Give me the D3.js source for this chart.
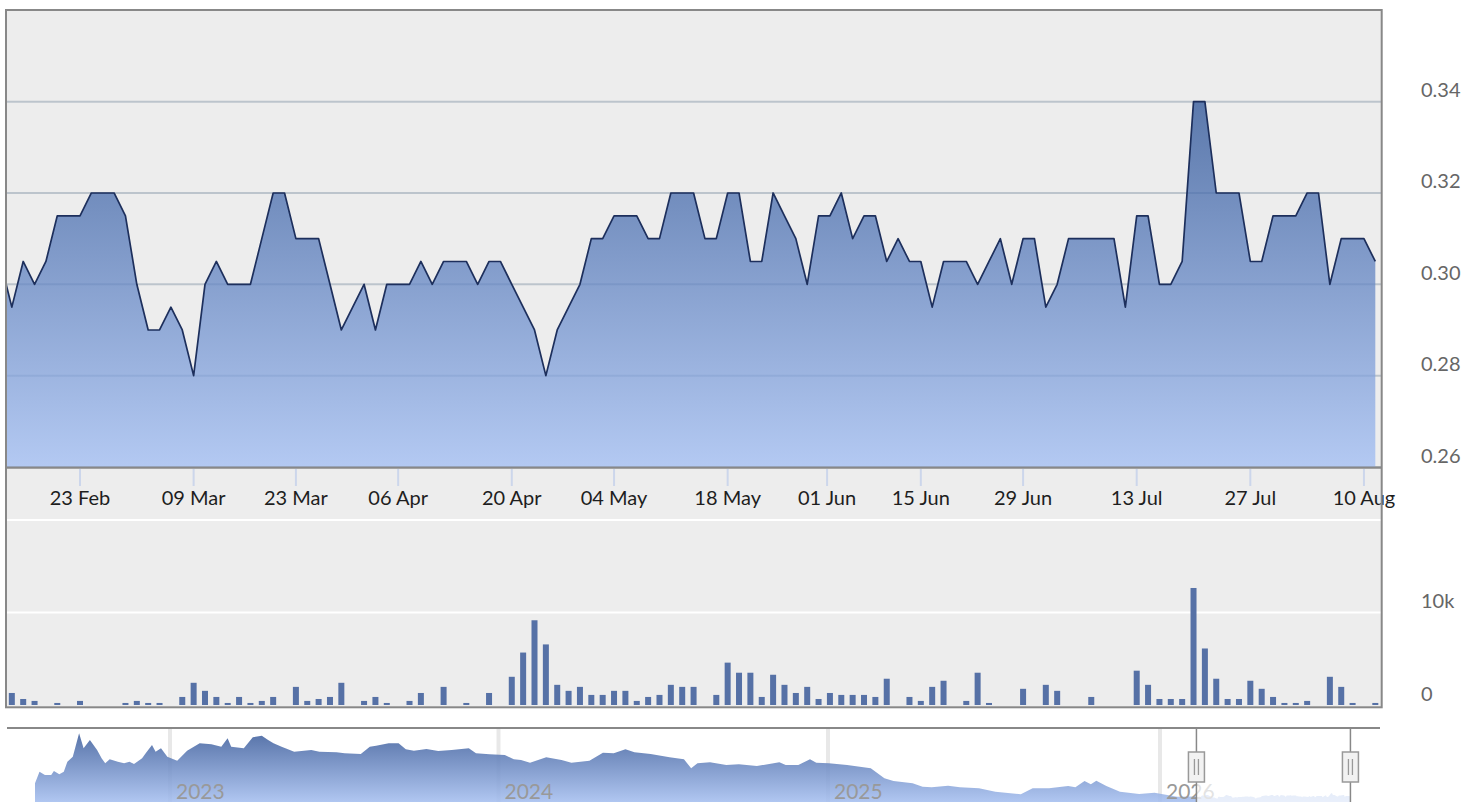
<!DOCTYPE html>
<html>
<head>
<meta charset="utf-8">
<script src="https://cdn.jsdelivr.net/npm/d3@7"></script>
<style>
html,body{margin:0;padding:0;background:#fff;overflow:hidden;}
svg{display:block;font-family:Lato,"Open Sans","Noto Sans",sans-serif;}
</style>
</head>
<body>
<svg id="chart" width="1474" height="802"></svg>
<script>
// ---------------- DATA ----------------
const startDate = "2026-02-12";
const endDate = "2026-08-11";
const closedDays = ["2026-03-17","2026-04-03","2026-04-27","2026-05-25","2026-06-01","2026-06-08","2026-06-22"];

const closePrices = [
  0.305,0.295,0.305,0.300,0.305,0.315,0.315,0.315,0.320,0.320,
  0.320,0.315,0.300,0.290,0.290,0.295,0.290,0.280,0.300,0.305,
  0.300,0.300,0.300,0.310,0.320,0.320,0.310,0.310,0.310,0.300,
  0.290,0.295,0.300,0.290,0.300,0.300,0.300,0.305,0.300,0.305,
  0.305,0.305,0.300,0.305,0.305,0.300,0.295,0.290,0.280,0.290,
  0.295,0.300,0.310,0.310,0.315,0.315,0.315,0.310,0.310,0.320,
  0.320,0.320,0.310,0.310,0.320,0.320,0.305,0.305,0.320,0.315,
  0.310,0.300,0.315,0.315,0.320,0.310,0.315,0.315,0.305,0.310,
  0.305,0.305,0.295,0.305,0.305,0.305,0.300,0.305,0.310,0.300,
  0.310,0.310,0.295,0.300,0.310,0.310,0.310,0.310,0.310,0.295,
  0.315,0.315,0.300,0.300,0.305,0.340,0.340,0.320,0.320,0.320,
  0.305,0.305,0.315,0.315,0.315,0.320,0.320,0.300,0.310,0.310,
  0.310,0.305
];

const volumes = [
  0,1300,650,440,0,220,0,440,0,0,
  0,220,440,220,220,0,870,2400,1530,870,
  220,870,220,440,870,0,1960,440,650,870,
  2400,0,440,870,220,0,440,1300,0,1960,
  0,220,0,1300,0,3050,5670,9160,6550,2180,
  1530,1960,1090,1090,1530,1530,440,870,1090,2180,
  1960,1960,0,1090,4580,3490,3490,870,3270,2180,
  1300,1960,650,1300,1090,1090,1090,870,2840,0,
  870,440,1960,2620,0,440,3490,220,0,0,
  1750,0,2180,1530,0,0,870,0,0,0,
  3710,2180,650,650,650,12650,6110,2840,650,650,
  2620,1750,870,220,220,440,0,3050,1960,220,
  0,220
];

const xTickDates = ["2026-02-23","2026-03-09","2026-03-23","2026-04-06","2026-04-20","2026-05-04",
  "2026-05-18","2026-06-01","2026-06-15","2026-06-29","2026-07-13","2026-07-27","2026-08-10"];
const priceTicks = [0.26,0.28,0.30,0.32,0.34];
const volumeGridTicks = [10000,20000];
const volumeLabelTicks = [0,10000];

const navHistoryDates = [
  "2022-08-04","2022-08-09","2022-08-15","2022-08-22","2022-08-25","2022-08-31","2022-09-05","2022-09-09",
  "2022-09-15","2022-09-22","2022-09-27","2022-10-04","2022-10-12","2022-10-17","2022-10-21","2022-10-26",
  "2022-11-04","2022-11-11","2022-11-17","2022-11-22","2022-12-01","2022-12-05","2022-12-12","2022-12-16",
  "2022-12-22","2022-12-29",
  "2023-01-09","2023-01-20","2023-02-03","2023-02-16","2023-02-27","2023-03-06","2023-03-10","2023-03-24",
  "2023-04-03","2023-04-13","2023-04-20","2023-04-26","2023-05-05","2023-05-19","2023-06-07","2023-06-16",
  "2023-07-05","2023-07-14","2023-08-01","2023-08-11","2023-08-18","2023-09-01","2023-09-12","2023-09-20",
  "2023-09-29","2023-10-13","2023-10-26","2023-11-10","2023-11-29","2023-12-07","2023-12-22",
  "2024-01-08","2024-01-18","2024-01-26","2024-02-05","2024-02-23","2024-03-11","2024-03-22","2024-04-11",
  "2024-04-26","2024-05-08","2024-05-21","2024-05-31","2024-06-18","2024-07-09","2024-07-25","2024-08-02",
  "2024-08-09","2024-08-23","2024-09-10","2024-09-24","2024-10-14","2024-11-08","2024-11-15","2024-11-29",
  "2024-12-12","2024-12-19",
  "2025-01-02","2025-01-22","2025-02-17","2025-03-04","2025-03-14","2025-04-04","2025-04-15","2025-04-25",
  "2025-05-13","2025-05-26","2025-06-16","2025-07-04","2025-08-01","2025-08-14","2025-09-01","2025-09-22",
  "2025-09-30","2025-10-10","2025-10-17","2025-10-23","2025-11-03","2025-11-18","2025-12-09","2025-12-26",
  "2026-01-21"
];
const navHistoryValues = [
  0.449,0.576,0.540,0.540,0.584,0.547,0.576,0.686,
  0.740,0.997,0.832,0.923,0.814,0.723,0.668,0.712,
  0.686,0.668,0.686,0.660,0.723,0.778,0.868,0.795,
  0.832,0.740,
  0.696,0.806,0.887,0.876,0.850,0.942,0.850,0.832,
  0.953,0.970,0.923,0.887,0.850,0.795,0.814,0.795,
  0.789,0.778,0.770,0.850,0.861,0.887,0.887,0.821,
  0.806,0.825,0.803,0.814,0.832,0.778,0.767,
  0.759,0.712,0.704,0.675,0.734,0.704,0.675,0.696,
  0.784,0.778,0.821,0.789,0.770,0.734,0.712,0.613,
  0.668,0.679,0.649,0.657,0.638,0.679,0.649,0.649,
  0.712,0.675,
  0.668,0.649,0.613,0.504,0.474,0.449,0.412,0.405,
  0.422,0.405,0.394,0.357,0.328,0.394,0.394,0.419,
  0.405,0.474,0.438,0.477,0.419,0.357,0.332,0.346,
  0.302
];
const navYearTicks = ["2023-01-01","2024-01-01","2025-01-01","2026-01-01"];

// ---------------- LAYOUT ----------------
const W = 1474, H = 802;
const plotL = 7, plotR = 1381;
const priceTop = 10.3, priceBot = 467;
const volTop = 520, volBot = 705;
const frameTop = 10, frameBot = 707.3;
const viewStartIdx = 0.575, viewEndIdx = 121.5;
const navTop = 728, navBottom = 806, navSeriesTop = 733;
const navAnchorPx = [35, 170, 498.5, 828, 1160, 1350];

const parse = d3.timeParse("%Y-%m-%d");
const keyFmt = d3.timeFormat("%Y-%m-%d");
const labelFmt = d3.timeFormat("%d %b");
const closedSet = new Set(closedDays);
const tradingDates = d3.timeDay.range(parse(startDate), d3.timeDay.offset(parse(endDate), 1))
  .filter(d => d.getDay() !== 0 && d.getDay() !== 6 && !closedSet.has(keyFmt(d)));
const n = Math.min(tradingDates.length, closePrices.length);
const series = d3.range(n).map(i => ({i, date: tradingDates[i], close: closePrices[i], vol: volumes[i]}));

function dateToIndex(d) {
  const t = +d;
  const i = d3.bisector(x => +x).right(tradingDates, t) - 1;
  if (i < 0) return 0;
  if (i >= tradingDates.length - 1) return tradingDates.length - 1;
  const a = +tradingDates[i], b = +tradingDates[i + 1];
  return i + (t - a) / (b - a);
}
function indexToDate(f) {
  const last = tradingDates.length - 1;
  if (f >= last) return new Date(+tradingDates[last] + (f - last) * 864e5);
  const i = Math.max(0, Math.floor(f)), fr = f - i;
  return new Date(+tradingDates[i] + fr * (+tradingDates[i + 1] - +tradingDates[i]));
}

const x = d3.scaleLinear().domain([viewStartIdx, viewEndIdx]).range([plotL, plotR]);
const y = d3.scaleLinear().domain([0.26, 0.36]).range([priceBot, priceTop]);
const yv = d3.scaleLinear().domain([0, 20000]).range([volBot, volTop]);

const svg = d3.select("#chart");
const defs = svg.append("defs");

const gradMain = defs.append("linearGradient").attr("id","gMain").attr("x1",0).attr("y1",0).attr("x2",0).attr("y2",1);
gradMain.append("stop").attr("offset","0%").attr("stop-color","#2b5296");
gradMain.append("stop").attr("offset","100%").attr("stop-color","#a0bdf4");

const gradNav = defs.append("linearGradient").attr("id","gNav").attr("x1",0).attr("y1",0).attr("x2",0).attr("y2",1);
gradNav.append("stop").attr("offset","0%").attr("stop-color","#40609d");
gradNav.append("stop").attr("offset","100%").attr("stop-color","#abc4f4");

defs.append("clipPath").attr("id","clipPrice").append("rect")
  .attr("x",plotL).attr("y",priceTop - 2).attr("width",plotR - plotL).attr("height",priceBot - priceTop + 2);
defs.append("clipPath").attr("id","clipVol").append("rect")
  .attr("x",plotL).attr("y",volTop).attr("width",plotR - plotL).attr("height",volBot - volTop);

// background
svg.append("rect").attr("x",plotL).attr("y",frameTop).attr("width",plotR - plotL).attr("height",frameBot - frameTop)
  .attr("fill","#ededed");

// price gridlines
svg.append("g").selectAll("line").data(priceTicks).join("line")
  .attr("x1",plotL).attr("x2",plotR).attr("y1",d => y(d)).attr("y2",d => y(d))
  .attr("stroke","#bcc4cc").attr("stroke-width",2);

// price area + line
const gPrice = svg.append("g").attr("clip-path","url(#clipPrice)");
gPrice.append("path").datum(series)
  .attr("d", d3.area().x(d => x(d.i)).y0(priceBot).y1(d => y(d.close)))
  .attr("fill","url(#gMain)").attr("fill-opacity",0.75);
gPrice.append("path").datum(series)
  .attr("d", d3.line().x(d => x(d.i)).y(d => y(d.close)))
  .attr("fill","none").attr("stroke","#1d2f5c").attr("stroke-width",1.7).attr("stroke-linejoin","round");

// x axis line, ticks, labels
svg.append("line").attr("x1",plotL).attr("x2",plotR).attr("y1",priceBot + 0.7).attr("y2",priceBot + 0.7)
  .attr("stroke","#888").attr("stroke-width",2.2);
const xt = xTickDates.map(s => ({date: parse(s), pos: x(dateToIndex(parse(s)))}));
svg.append("g").selectAll("line").data(xt).join("line")
  .attr("x1",d => d.pos).attr("x2",d => d.pos).attr("y1",priceBot + 2).attr("y2",priceBot + 19)
  .attr("stroke","#ccd6eb").attr("stroke-width",2);
svg.append("g").selectAll("text").data(xt).join("text")
  .attr("x",d => d.pos).attr("y",505).attr("text-anchor","middle")
  .attr("font-size",20).attr("fill","#1e1e1e").text(d => labelFmt(d.date));

// volume gridlines + bars
svg.append("g").selectAll("line").data(volumeGridTicks).join("line")
  .attr("x1",plotL).attr("x2",plotR).attr("y1",d => yv(d)).attr("y2",d => yv(d))
  .attr("stroke","#ffffff").attr("stroke-width",2);
svg.append("g").attr("clip-path","url(#clipVol)").selectAll("rect").data(series.filter(d => d.vol > 0)).join("rect")
  .attr("x",d => x(d.i) - 3).attr("width",6)
  .attr("y",d => yv(d.vol)).attr("height",d => volBot - yv(d.vol))
  .attr("fill","#5671a6");

// frame
svg.append("rect").attr("x",6).attr("y",frameTop).attr("width",1381.7 - 6).attr("height",frameBot - frameTop)
  .attr("fill","none").attr("stroke","#888").attr("stroke-width",2);

// y labels
svg.append("g").selectAll("text").data(priceTicks).join("text")
  .attr("x",1421).attr("y",d => y(d) - 4.5).attr("font-size",20).attr("fill","#666")
  .text(d => d3.format(".2f")(d));
svg.append("g").selectAll("text").data(volumeLabelTicks).join("text")
  .attr("x",1421).attr("y",d => yv(d) - 4.3).attr("font-size",20).attr("fill","#666")
  .text(d => d3.format("~s")(d));

// ---------------- NAVIGATOR ----------------
const navAnchorDates = [parse(navHistoryDates[0])].concat(navYearTicks.map(parse)).concat([parse(endDate)]);
const nx = d3.scaleTime().domain(navAnchorDates).range(navAnchorPx);
const ny = d3.scaleLinear().domain([0.2, 1.0]).range([navBottom, navSeriesTop]);
const navData = navHistoryDates.map((s, k) => ({date: parse(s), v: navHistoryValues[k]}))
  .concat(series.map(d => ({date: d.date, v: d.close})));

svg.append("g").selectAll("line").data(navYearTicks).join("line")
  .attr("x1",d => nx(parse(d))).attr("x2",d => nx(parse(d))).attr("y1",navTop).attr("y2",H)
  .attr("stroke","#e8e8e8").attr("stroke-width",4);
svg.append("path").datum(navData)
  .attr("d", d3.area().x(d => nx(d.date)).y0(navBottom).y1(d => ny(d.v)))
  .attr("fill","url(#gNav)").attr("fill-opacity",0.88);
svg.append("g").selectAll("text").data(navYearTicks).join("text")
  .attr("x",d => nx(parse(d)) + 6).attr("y",799).attr("font-size",21).attr("fill","#999")
  .text(d => d.slice(0,4));

const hL = nx(indexToDate(viewStartIdx)), hR = nx(indexToDate(viewEndIdx));
svg.append("rect").attr("x",hL).attr("y",navTop).attr("width",hR - hL).attr("height",H - navTop)
  .attr("fill","#ffffff").attr("fill-opacity",0.72);
svg.append("line").attr("x1",7).attr("x2",1380).attr("y1",navTop).attr("y2",navTop)
  .attr("stroke","#888").attr("stroke-width",2);
[hL, hR].forEach(hx => {
  svg.append("line").attr("x1",hx).attr("x2",hx).attr("y1",navTop).attr("y2",H)
    .attr("stroke","#888").attr("stroke-width",1.5);
  svg.append("rect").attr("x",hx - 8).attr("y",752).attr("width",16).attr("height",30)
    .attr("fill","#f2f2f2").attr("stroke","#999").attr("stroke-width",1.5);
  [-2, 2].forEach(o => svg.append("line").attr("x1",hx + o).attr("x2",hx + o).attr("y1",759).attr("y2",775)
    .attr("stroke","#999").attr("stroke-width",1.3));
});
</script>
</body>
</html>
